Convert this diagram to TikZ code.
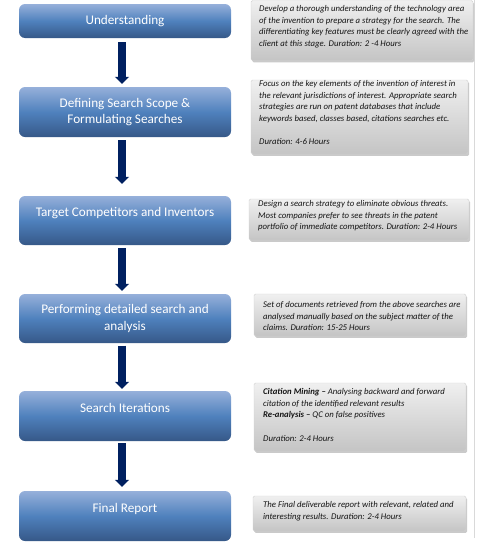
\documentclass[tikz,border=0pt]{standalone}
\usepackage{fontspec}
\setmainfont{Carlito}
\usetikzlibrary{arrows.meta,shadows,calc}
\definecolor{navy}{RGB}{0,32,96}
\definecolor{stagetop}{RGB}{150,176,218}
\definecolor{stagemid}{RGB}{79,129,189}
\definecolor{stagebot}{RGB}{54,88,136}
\begin{document}
\begin{tikzpicture}[x=1pt,y=-1pt,
  stage/.style={rounded corners=6pt, minimum width=212pt, inner sep=0pt,
    text=white, align=center, font=\fontsize{13.2}{16.7}\selectfont,
    top color=stagetop, bottom color=stagebot, middle color=stagemid},
  note/.style={rounded corners=1.5pt, draw=black!18, line width=0.4pt, inner sep=0pt,
    top color=black!6, bottom color=black!23,
    drop shadow={shadow xshift=1.2pt, shadow yshift=-1.8pt, opacity=0.35, fill=black!60}},
  notetext/.style={anchor=north west, inner sep=0pt, align=left, text=black!92,
    font=\fontsize{8.75}{11.7}\selectfont\itshape},
  flow/.style={draw=navy, line width=7.5pt, -{Triangle[width=14pt,length=7pt]}}]
\useasboundingbox (0,0) rectangle (479,549);
\draw[black!15, line width=0.8pt] (474.5,0) -- (474.5,538);
% stages
\node[stage, minimum height=34pt] (s1) at (125,21) {Understanding};
\node[stage, minimum height=50pt] (s2) at (125,112) {Defining Search Scope \&\\Formulating Searches};
\node[stage, minimum height=49pt] (s3) at (125,220.5) {Target Competitors and Inventors\\\mbox{}};
\node[stage, minimum height=49pt] (s4) at (125,318.5) {Performing detailed search and\\analysis};
\node[stage, minimum height=50pt] (s5) at (125,416) {Search Iterations\\\mbox{}};
\node[stage, minimum height=50pt] (s6) at (125,516) {Final Report\\\mbox{}};
% arrows
\draw[flow] ([xshift=-3pt,yshift=-4pt]s1.south) -- ([xshift=-3pt,yshift=3pt]s2.north);
\draw[flow] ([xshift=-3pt,yshift=-3pt]s2.south) -- ([xshift=-3pt,yshift=12pt]s3.north);
\draw[flow] ([xshift=-3pt,yshift=-3pt]s3.south) -- ([xshift=-3pt,yshift=3pt]s4.north);
\draw[flow] ([xshift=-3pt,yshift=-2.5pt]s4.south) -- ([xshift=-3pt,yshift=2pt]s5.north);
\draw[flow] ([xshift=-3pt,yshift=-2pt]s5.south) -- ([xshift=-3pt,yshift=4pt]s6.north);
% notes
\node[note, minimum width=222pt, minimum height=60pt] (n1) at (362,30.5) {};
\node[note, minimum width=217pt, minimum height=74pt] (n2) at (359.5,117) {};
\node[note, minimum width=220pt, minimum height=41pt] (n3) at (359,219.5) {};
\node[note, minimum width=212pt, minimum height=42pt] (n4) at (360,315) {};
\node[note, minimum width=212pt, minimum height=68pt] (n5) at (360,417) {};
\node[note, minimum width=213pt, minimum height=35pt] (n6) at (359.5,513.5) {};
\node[notetext] (t1) at (259,3) {\strut Develop a thorough understanding of the technology area\\of the invention to prepare a strategy for the search. The\\differentiating key features must be clearly agreed with the\\client at this stage. Duration: 2 -4 Hours};
\node[notetext] (t2) at (259,78) {\strut Focus on the key elements of the invention of interest in\\the relevant jurisdictions of interest. Appropriate search\\strategies are run on patent databases that include\\keywords based, classes based, citations searches etc.\\[11.7pt]Duration: 4-6 Hours};
\node[notetext] (t3) at (258,198) {\strut Design a search strategy to eliminate obvious threats.\\Most companies prefer to see threats in the patent\\portfolio of immediate competitors. Duration: 2-4 Hours};
\node[notetext] (t4) at (263,299) {\strut Set of documents retrieved from the above searches are\\analysed manually based on the subject matter of the\\claims. Duration: 15-25 Hours};
\node[notetext] (t5) at (263,386) {\strut\textbf{Citation Mining –} Analysing backward and forward\\citation of the identified relevant results\\\textbf{Re-analysis –} QC on false positives\\[11.7pt]Duration: 2-4 Hours};
\node[notetext] (t6) at (263,499) {\strut The Final deliverable report with relevant, related and\\interesting results. Duration: 2-4 Hours};
\end{tikzpicture}
\end{document}
